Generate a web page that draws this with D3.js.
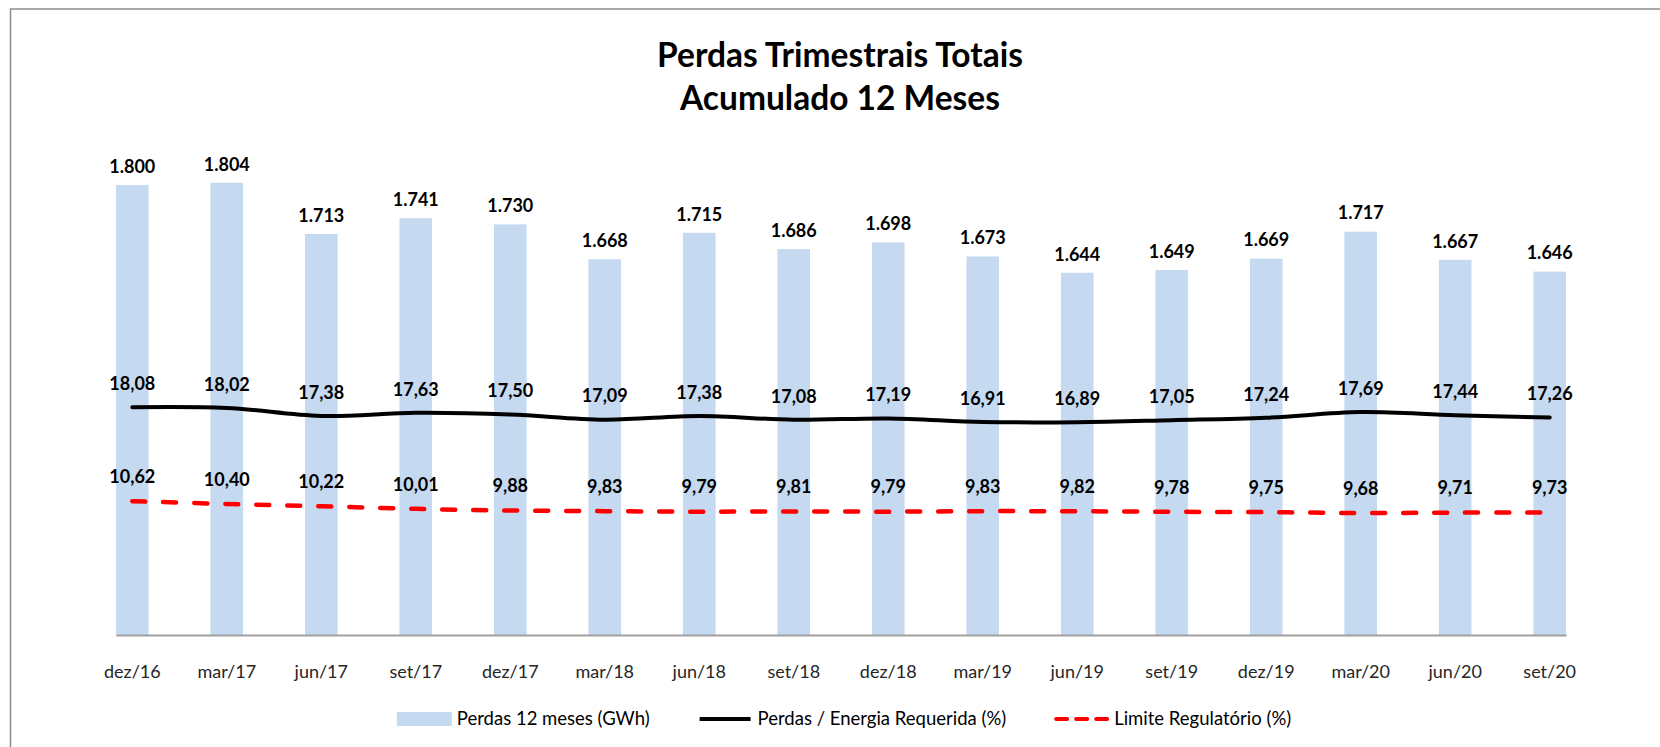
<!DOCTYPE html>
<html>
<head>
<meta charset="utf-8">
<script src="https://cdn.jsdelivr.net/npm/d3@7"></script>
<style>
  body { margin: 0; background: #fff; }
  text { font-family: Lato, "Open Sans", sans-serif; }
</style>
</head>
<body>
<div id="chart"></div>
<script>
// data
let categories = ["dez/16", "mar/17", "jun/17", "set/17", "dez/17", "mar/18", "jun/18", "set/18",
                  "dez/18", "mar/19", "jun/19", "set/19", "dez/19", "mar/20", "jun/20", "set/20"]
let perdasGWh = [1800, 1804, 1713, 1741, 1730, 1668, 1715, 1686, 1698, 1673, 1644, 1649, 1669, 1717, 1667, 1646]
let perdasPct = [18.08, 18.02, 17.38, 17.63, 17.50, 17.09, 17.38, 17.08, 17.19, 16.91, 16.89, 17.05, 17.24, 17.69, 17.44, 17.26]
let limitePct = [10.62, 10.40, 10.22, 10.01, 9.88, 9.83, 9.79, 9.81, 9.79, 9.83, 9.82, 9.78, 9.75, 9.68, 9.71, 9.73]
let titleLines = ["Perdas Trimestrais Totais", "Acumulado 12 Meses"]
let legendLabels = ["Perdas 12 meses (GWh)", "Perdas / Energia Requerida (%)", "Limite Regulatório (%)"]

let svgWidth = 1660
let svgHeight = 747

// pt-BR number format
let ptBR = d3.formatLocale({decimal: ",", thousands: ".", grouping: [3], currency: ["R$", ""]})
let fmtInt = ptBR.format(",d")
let fmtPct = ptBR.format(".2f")

let barColor = "#C5D9F0"

let svg = d3.select("#chart")
    .append("svg")
    .attr("width", svgWidth)
    .attr("height", svgHeight)

// outer frame (runs off the right/bottom edge in the original)
svg.append("rect")
    .attr("x", 10.5)
    .attr("y", 9)
    .attr("width", 1800)
    .attr("height", 900)
    .attr("fill", "none")
    .attr("stroke", "#8c8c8c")
    .attr("stroke-width", 1.5)

// title
svg.append("g")
    .selectAll("text")
    .data(titleLines)
    .join("text")
    .attr("x", 840)
    .attr("y", (d, i) => 66.5 + i * 43.5)
    .attr("text-anchor", "middle")
    .attr("font-size", 33.5)
    .attr("font-weight", "bold")
    .attr("fill", "#000")
    .text(d => d)

// scales
let xScale = d3.scaleBand()
    .domain(categories)
    .range([116, 1566])
    .paddingInner(0.655)
    .paddingOuter(0)

let yBar = d3.scaleLinear()
    .domain([1000, 2000])
    .range([635, 72.5])

let yLine = d3.scaleLinear()
    .domain([0, 45])
    .range([635, 68])

let cx = d => xScale(d) + xScale.bandwidth() / 2

// bars
svg.append("g")
    .selectAll("rect")
    .data(categories)
    .join("rect")
    .attr("x", d => xScale(d))
    .attr("y", (d, i) => yBar(perdasGWh[i]))
    .attr("width", xScale.bandwidth())
    .attr("height", (d, i) => yBar(1000) - yBar(perdasGWh[i]))
    .attr("fill", barColor)

// x axis
let xAxis = d3.axisBottom(xScale)
    .tickSize(0)
    .tickPadding(30)

let axisG = svg.append("g")
    .attr("transform", "translate(0,635)")
    .call(xAxis)

axisG.select(".domain")
    .attr("stroke", "#a0a0a0")
    .attr("stroke-width", 2)
axisG.selectAll("text")
    .attr("font-family", "Lato, sans-serif")
    .attr("font-size", 18)
    .attr("fill", "#262626")

// lines
let lineGen = d3.line()
    .x((d, i) => cx(categories[i]))
    .y(d => yLine(d))
    .curve(d3.curveCatmullRom)

svg.append("path")
    .attr("d", lineGen(limitePct))
    .attr("fill", "none")
    .attr("stroke", "#ff0000")
    .attr("stroke-width", 4.5)
    .attr("stroke-linecap", "round")
    .attr("stroke-dasharray", "13 18")

svg.append("path")
    .attr("d", lineGen(perdasPct))
    .attr("fill", "none")
    .attr("stroke", "#000")
    .attr("stroke-width", 4)
    .attr("stroke-linecap", "round")

// data labels
function addLabels(values, yFn, offset, fmt) {
    svg.append("g")
        .selectAll("text")
        .data(values)
        .join("text")
        .attr("x", (d, i) => cx(categories[i]))
        .attr("y", d => yFn(d) - offset)
        .attr("dy", "0.35em")
        .attr("text-anchor", "middle")
        .attr("font-size", 18)
        .attr("font-weight", "bold")
        .attr("fill", "#000")
        .text(d => fmt(d))
}
addLabels(perdasGWh, yBar, 18.5, fmtInt)
addLabels(perdasPct, yLine, 23.5, fmtPct)
addLabels(limitePct, yLine, 24.5, fmtPct)

// legend
let legend = svg.append("g")
let legendY = 719
let swatchW = 55
let items = legendLabels.map((label, i) => {
    let g = legend.append("g")
    if (i == 0) {
        g.append("rect")
            .attr("x", 0).attr("y", legendY - 7)
            .attr("width", swatchW).attr("height", 14)
            .attr("fill", barColor)
    } else {
        g.append("line")
            .attr("x1", 2).attr("x2", swatchW - 2)
            .attr("y1", legendY).attr("y2", legendY)
            .attr("stroke", i == 1 ? "#000" : "#ff0000")
            .attr("stroke-width", 4)
            .attr("stroke-linecap", i == 1 ? "butt" : "round")
            .attr("stroke-dasharray", i == 1 ? null : "11 9")
    }
    let t = g.append("text")
        .attr("x", swatchW + 5)
        .attr("y", legendY)
        .attr("dy", "0.35em")
        .attr("font-size", 18.5)
        .attr("fill", "#000")
        .text(label)
    return {g: g, w: swatchW + 5 + t.node().getComputedTextLength()}
})
let gap = 48
let total = d3.sum(items, d => d.w) + gap * (items.length - 1)
let xPos = 844 - total / 2
items.forEach(d => {
    d.g.attr("transform", `translate(${xPos},0)`)
    xPos += d.w + gap
})
</script>
</body>
</html>
